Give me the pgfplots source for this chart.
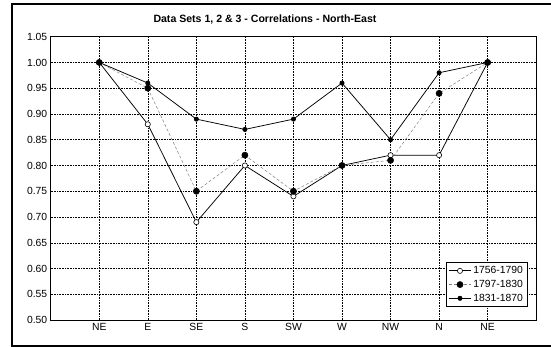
\documentclass[border=0pt]{standalone}
\usepackage{fontspec}
\setmainfont{Liberation Sans}
\usepackage{pgfplots}
\pgfplotsset{compat=1.18}
\begin{document}
\begin{tikzpicture}
\useasboundingbox (-50.7bp,-27bp) rectangle (500.3bp,320bp);
\begin{axis}[
  at={(0pt,0pt)}, anchor=south west,
  scale only axis, width=485.5bp, height=283.3bp,
  xmin=-1, xmax=9, ymin=0.5, ymax=1.05,
  xtick={0,1,2,3,4,5,6,7,8},
  xticklabels={NE,E,SE,S,SW,W,NW,N,NE},
  ytick={0.5,0.55,0.6,0.65,0.7,0.75,0.8,0.85,0.9,0.95,1.0,1.05},
  yticklabel style={/pgf/number format/.cd, fixed, fixed zerofill, precision=2},
  /pgf/number format/assume math mode=true,
  ticklabel style={font=\fontsize{10.4}{12}\selectfont},
  grid=major,
  major grid style={black, line width=0.45pt, dash pattern=on 0.8pt off 0.8pt},
  major tick length=0pt,
  axis line style={black, line width=0.9pt},
  legend style={at={(0.9815,0.0459)}, anchor=south east,
    font=\fontsize{10.4}{12}\selectfont, draw=black, line width=0.7pt,
    row sep=1bp, inner sep=2bp},
  legend cell align=left,
  legend image code/.code={
    \draw[#1] (0bp,0bp) -- (11bp,0bp) -- (22bp,0bp);
    \draw[#1, mark repeat=2, mark phase=2] plot coordinates {(0bp,0bp) (11bp,0bp) (22bp,0bp)};
  },
]
\addplot[black, line width=0.75pt, mark=*, mark size=2.6bp, mark options={solid, fill=white, draw=black, line width=0.6pt}]
  coordinates {(0,1.00) (1,0.88) (2,0.69) (3,0.80) (4,0.74) (5,0.80) (6,0.82) (7,0.82) (8,1.00)};
\addlegendentry{1756-1790}
\addplot[gray, line width=0.5pt, dash pattern=on 3pt off 2pt, mark=*, mark size=3.1bp, mark options={solid, fill=black, draw=black}]
  coordinates {(0,1.00) (1,0.95) (2,0.75) (3,0.82) (4,0.75) (5,0.80) (6,0.81) (7,0.94) (8,1.00)};
\addlegendentry{1797-1830}
\addplot[black, line width=0.75pt, mark=*, mark size=2.1bp, mark options={solid, fill=black, draw=black}]
  coordinates {(0,1.00) (1,0.96) (2,0.89) (3,0.87) (4,0.89) (5,0.96) (6,0.85) (7,0.98) (8,1.00)};
\addlegendentry{1831-1870}
\end{axis}
\node[font=\fontsize{10.6}{12}\selectfont\bfseries] at (214.3bp,301bp) {Data Sets 1, 2 \& 3 - Correlations - North-East};
\draw[line width=2bp] (510bp,316bp) -- (-39bp,316bp) -- (-39bp,-26bp) -- (510bp,-26bp);
\end{tikzpicture}
\end{document}
